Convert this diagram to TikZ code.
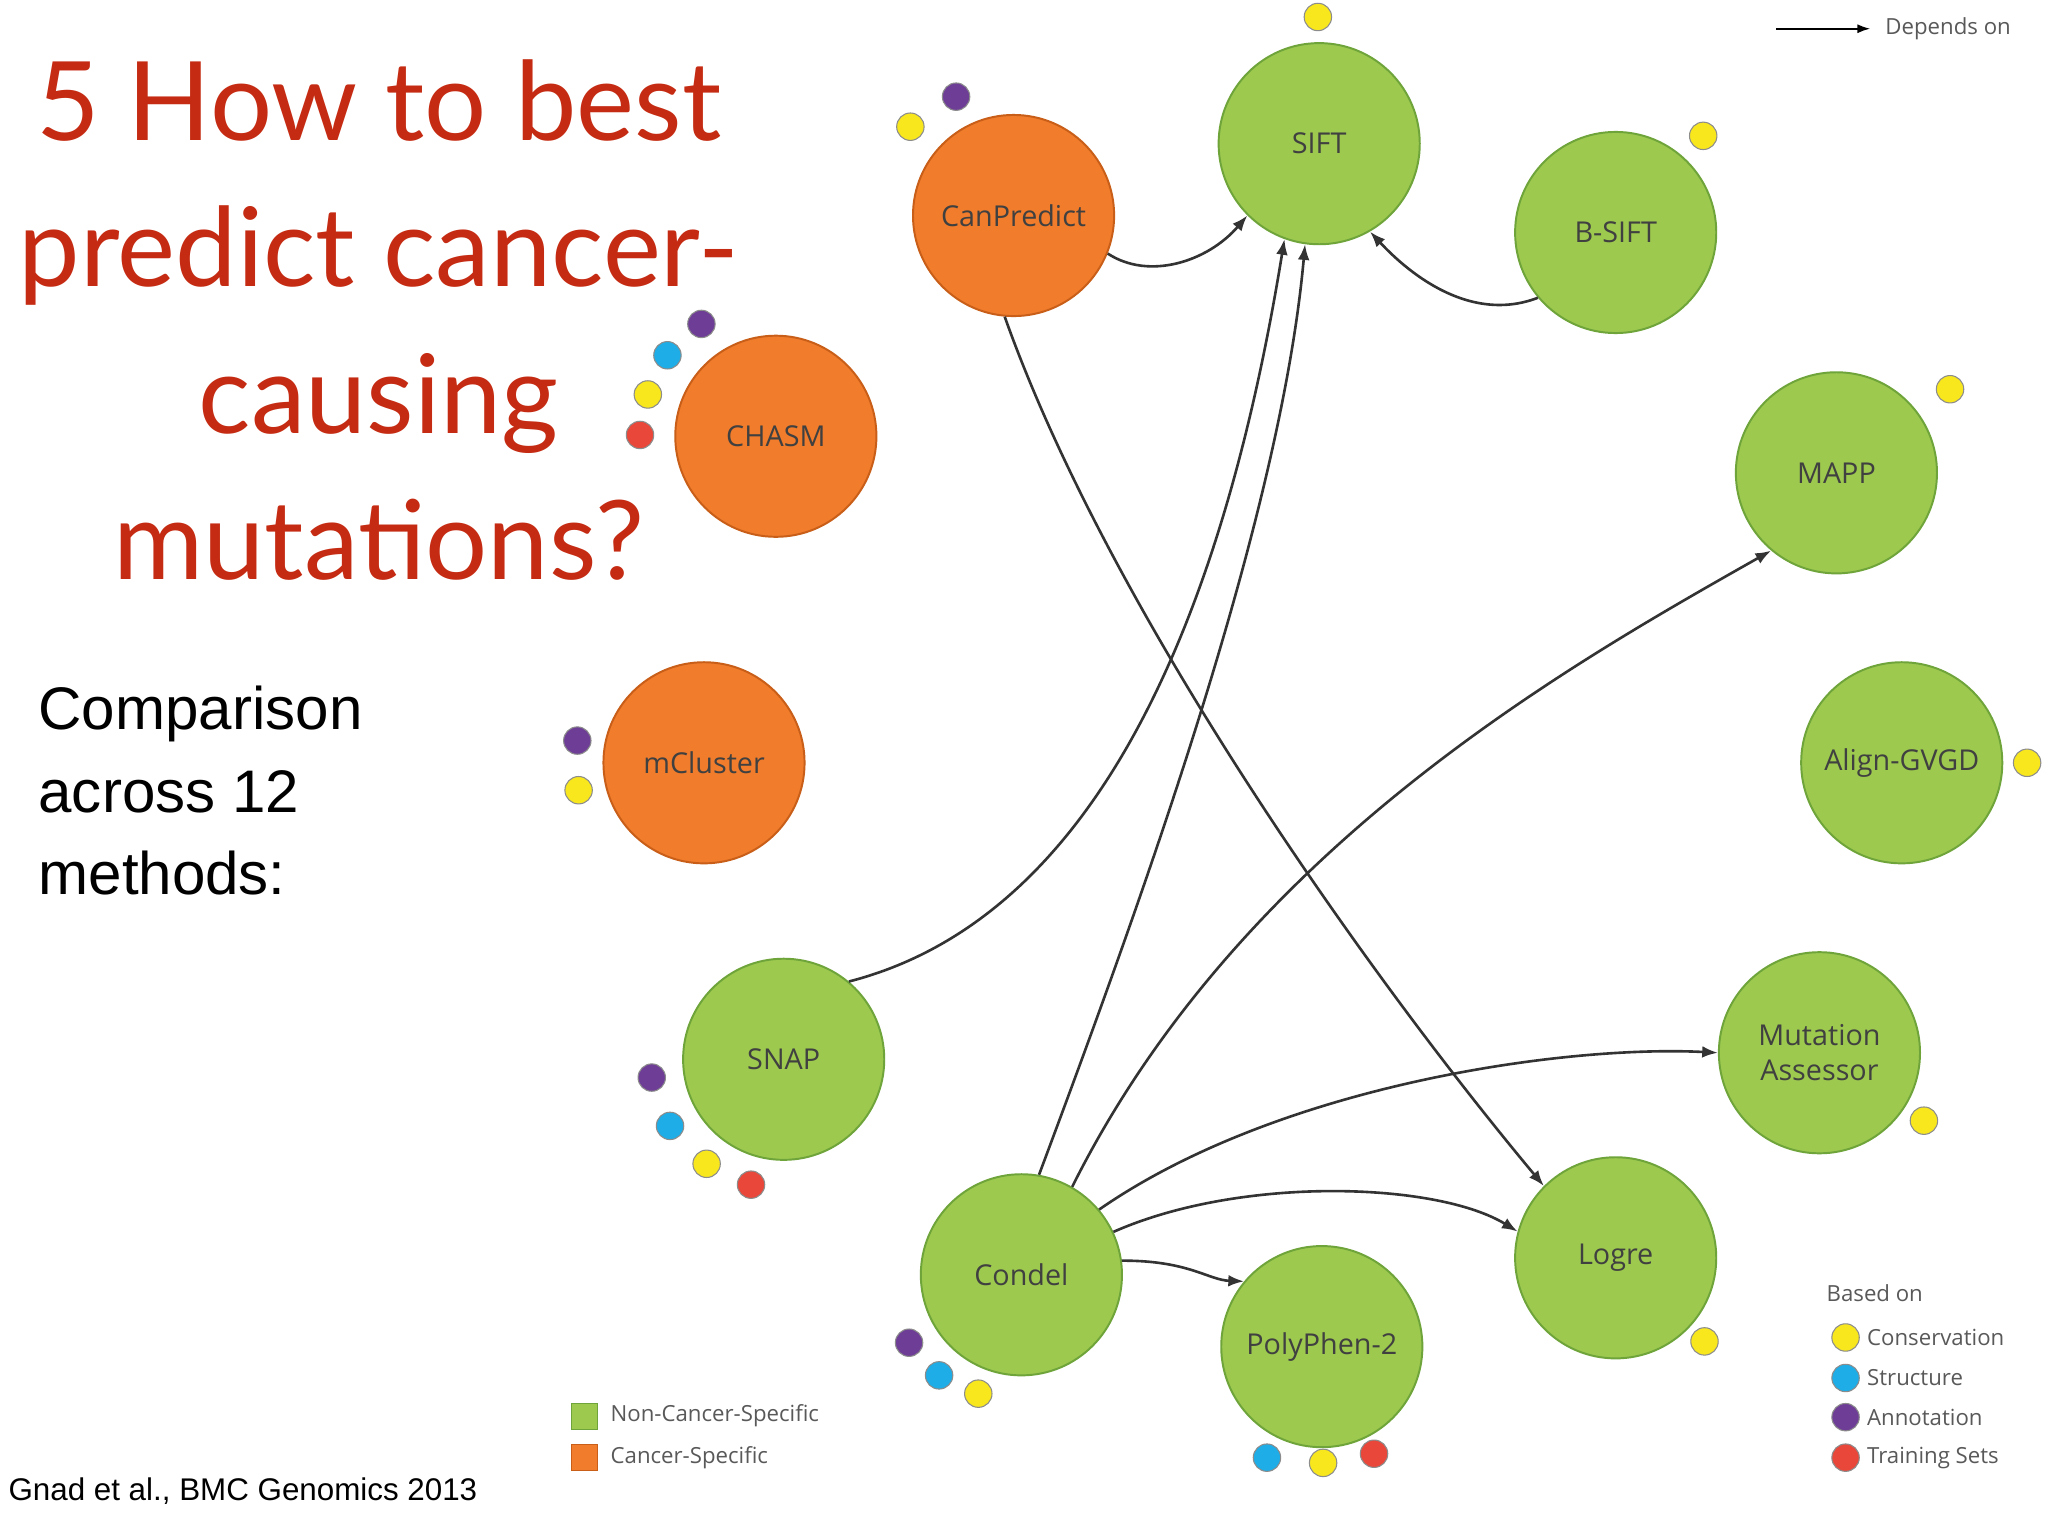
\documentclass[tikz,border=0pt]{standalone}
\usepackage{fontspec}
\setmainfont{Liberation Sans}
\newfontfamily\titlefont{Lato}
\newfontfamily\nodefont{Open Sans}
\usetikzlibrary{arrows.meta}
\definecolor{gr}{HTML}{9DC94F}
\definecolor{grb}{HTML}{6EA43A}
\definecolor{orf}{HTML}{F07C2C}
\definecolor{orb}{HTML}{C85E18}
\definecolor{ttl}{HTML}{C52B12}
\definecolor{dy}{HTML}{F8E71C}
\definecolor{db}{HTML}{1EADE6}
\definecolor{dp}{HTML}{6E3D96}
\definecolor{dr}{HTML}{E8473A}
\tikzset{
 meth/.style={circle,minimum size=154pt,inner sep=0pt,fill=gr,draw=grb,line width=1.5pt,font=\nodefont\fontsize{22}{27}\selectfont,text=black!75,align=center},
 cmeth/.style={meth,fill=orf,draw=orb},
 dot/.style={circle,minimum size=21pt,inner sep=0pt,draw=black!45,line width=0.8pt,fill=#1},
 dep/.style={-{Latex[length=12pt,width=9pt]},line width=2pt,black!80},
 leg/.style={font=\nodefont\fontsize{17}{20}\selectfont,text=black!65,anchor=west}
}
\begin{document}
\begin{tikzpicture}[x=1pt,y=-1pt]
\useasboundingbox[fill=white] (0,0) rectangle (1568,1176);
% title
\node[font=\titlefont\fontsize{84}{112}\selectfont,text=ttl,align=center] (title) at (290,245) {5 How to best\\predict cancer-\\causing\\mutations?};
\node[font=\fontsize{46}{63}\selectfont,align=left,anchor=north west] (cmp) at (26,522) {Comparison\\across 12\\methods:};
\node[font=\fontsize{24}{28}\selectfont,anchor=west] (ref) at (3,1142) {Gnad et al., BMC Genomics 2013};
% methods
\node[meth] (sift) at (1010,110) {SIFT};
\node[cmeth] (canp) at (776,165) {CanPredict};
\node[meth] (bsift) at (1237,178) {B-SIFT};
\node[cmeth] (chasm) at (594,334) {CHASM};
\node[meth] (mapp) at (1406,362) {MAPP};
\node[cmeth] (mcl) at (539,584) {mCluster};
\node[meth] (align) at (1456,584) {Align-GVGD};
\node[meth] (snap) at (600,811) {SNAP};
\node[meth] (mut) at (1393,806) {Mutation\\Assessor};
\node[meth] (condel) at (782,976) {Condel};
\node[meth] (logre) at (1237,963) {Logre};
\node[meth] (poly) at (1012,1031) {PolyPhen-2};
% dots
\node[dot=dy] (d1) at (1009,13) {};
\node[dot=dp] (d2) at (732,74) {};
\node[dot=dy] (d3) at (697,97) {};
\node[dot=dy] (d4) at (1304,104) {};
\node[dot=dp] (d5) at (537,248) {};
\node[dot=db] (d6) at (511,272) {};
\node[dot=dy] (d7) at (496,302) {};
\node[dot=dr] (d8) at (490,333) {};
\node[dot=dy] (d9) at (1493,298) {};
\node[dot=dp] (d10) at (442,567) {};
\node[dot=dy] (d11) at (443,605) {};
\node[dot=dy] (d12) at (1552,584) {};
\node[dot=dp] (d13) at (499,825) {};
\node[dot=db] (d14) at (513,862) {};
\node[dot=dy] (d15) at (541,891) {};
\node[dot=dr] (d16) at (575,907) {};
\node[dot=dy] (d17) at (1473,858) {};
\node[dot=dp] (d18) at (696,1028) {};
\node[dot=db] (d19) at (719,1053) {};
\node[dot=dy] (d20) at (749,1067) {};
\node[dot=dy] (d21) at (1305,1027) {};
\node[dot=db] (d22) at (970,1116) {};
\node[dot=dy] (d23) at (1013,1120) {};
\node[dot=dr] (d24) at (1052,1113) {};
% arrows
\draw[dep] (canp.-22) .. controls (880,215) and (925,200) .. (sift.-135);
\draw[dep] (bsift.-140) .. controls (1120,250) and (1070,200) .. (sift.-60);
\draw[dep] (canp.-95) .. controls (850,470) and (1050,750) .. (logre.135);
\draw[dep] (snap.50) .. controls (850,700) and (940,450) .. (sift.-110);
\draw[dep] (condel.80) .. controls (870,700) and (980,400) .. (sift.-98);
\draw[dep] (condel.60) .. controls (950,650) and (1200,510) .. (mapp.-130);
\draw[dep] (condel.40) .. controls (980,830) and (1200,800) .. (mut.180);
\draw[dep] (condel.25) .. controls (950,900) and (1100,905) .. (logre.165);
\draw[dep] (condel.8) .. controls (910,965) and (925,980) .. (poly.140);
% legends
\coordinate (la) at (1360,22);
\coordinate (lb) at (1432,22);
\draw[-{Latex[length=10pt,width=7pt]},line width=1.5pt] (la) -- (lb);
\node[leg] (ldep) at (1440,22) {Depends on};
\node[leg] (lbased) at (1395,990) {Based on};
\node[dot=dy] (l1) at (1413,1024) {};
\node[leg] (l1t) at (1426,1024) {Conservation};
\node[dot=db] (l2) at (1413,1055) {};
\node[leg] (l2t) at (1426,1055) {Structure};
\node[dot=dp] (l3) at (1413,1085) {};
\node[leg] (l3t) at (1426,1085) {Annotation};
\node[dot=dr] (l4) at (1413,1116) {};
\node[leg] (l4t) at (1426,1116) {Training Sets};
\node[fill=gr,draw=grb,minimum size=20pt,inner sep=0pt] (s1) at (447,1084) {};
\node[leg] (s1t) at (464,1084) {Non-Cancer-Specific};
\node[fill=orf,draw=orb,minimum size=20pt,inner sep=0pt] (s2) at (447,1116) {};
\node[leg] (s2t) at (464,1116) {Cancer-Specific};
\end{tikzpicture}
\end{document}
